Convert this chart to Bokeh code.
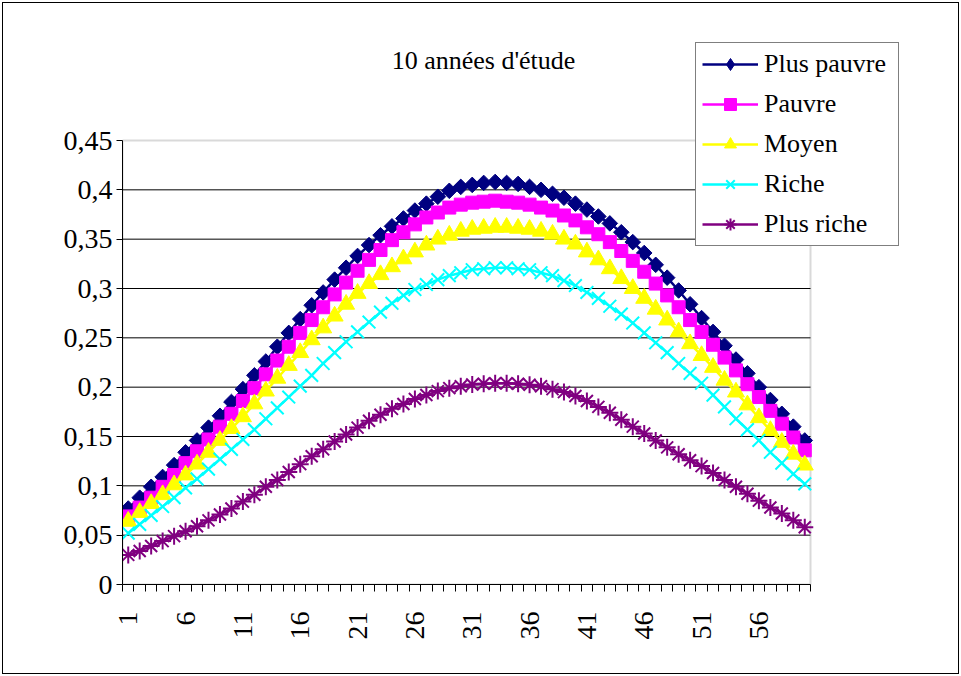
import math
from bokeh.plotting import figure
from bokeh.models import (Range1d, FixedTicker, CustomJSTickFormatter, LinearAxis,
                          Legend, LegendItem, Label, BoxAnnotation)
from bokeh.embed import file_html
from bokeh.resources import INLINE

# ---- data ----
periods = list(range(1, 61))
x_tick_labels = ["1", "6", "11", "16", "21", "26", "31", "36", "41", "46", "51", "56"]
x_tick_positions = [1, 6, 11, 16, 21, 26, 31, 36, 41, 46, 51, 56]
y_ticks = [0, 0.05, 0.1, 0.15, 0.2, 0.25, 0.3, 0.35, 0.4, 0.45]

plus_pauvre = [0.077, 0.088, 0.099, 0.109, 0.121, 0.134, 0.146, 0.159, 0.171, 0.185,
               0.198, 0.212, 0.226, 0.241, 0.255, 0.269, 0.283, 0.296, 0.309, 0.321,
               0.333, 0.344, 0.354, 0.363, 0.371, 0.379, 0.386, 0.393, 0.399, 0.403,
               0.405, 0.407, 0.408, 0.407, 0.406, 0.403, 0.400, 0.396, 0.392, 0.386,
               0.380, 0.373, 0.366, 0.357, 0.347, 0.336, 0.324, 0.311, 0.298, 0.284,
               0.270, 0.256, 0.242, 0.228, 0.214, 0.200, 0.187, 0.173, 0.160, 0.146]
pauvre = [0.069, 0.078, 0.088, 0.099, 0.111, 0.123, 0.135, 0.147, 0.160, 0.173,
          0.186, 0.199, 0.213, 0.227, 0.241, 0.255, 0.268, 0.281, 0.294, 0.306,
          0.318, 0.329, 0.339, 0.349, 0.357, 0.365, 0.372, 0.377, 0.382, 0.385,
          0.387, 0.388, 0.389, 0.388, 0.387, 0.385, 0.382, 0.379, 0.374, 0.369,
          0.362, 0.355, 0.347, 0.338, 0.328, 0.317, 0.305, 0.293, 0.281, 0.268,
          0.256, 0.243, 0.230, 0.217, 0.203, 0.190, 0.176, 0.163, 0.149, 0.136]
moyen = [0.064, 0.073, 0.082, 0.091, 0.101, 0.111, 0.122, 0.134, 0.146, 0.158,
         0.170, 0.183, 0.196, 0.209, 0.222, 0.235, 0.248, 0.260, 0.272, 0.284,
         0.295, 0.305, 0.314, 0.322, 0.330, 0.337, 0.344, 0.350, 0.354, 0.358,
         0.360, 0.361, 0.362, 0.362, 0.361, 0.360, 0.358, 0.355, 0.350, 0.345,
         0.337, 0.329, 0.320, 0.310, 0.300, 0.290, 0.279, 0.268, 0.256, 0.244,
         0.232, 0.220, 0.207, 0.195, 0.182, 0.169, 0.156, 0.144, 0.132, 0.121]
riche = [0.052, 0.061, 0.070, 0.079, 0.088, 0.098, 0.107, 0.117, 0.127, 0.137,
         0.147, 0.157, 0.168, 0.179, 0.190, 0.201, 0.212, 0.224, 0.235, 0.246,
         0.256, 0.266, 0.276, 0.285, 0.293, 0.299, 0.304, 0.309, 0.313, 0.316,
         0.319, 0.320, 0.321, 0.321, 0.320, 0.319, 0.316, 0.313, 0.308, 0.303,
         0.296, 0.290, 0.282, 0.274, 0.265, 0.255, 0.245, 0.235, 0.224, 0.214,
         0.204, 0.192, 0.180, 0.168, 0.157, 0.146, 0.134, 0.123, 0.112, 0.102]
plus_riche = [0.030, 0.034, 0.039, 0.044, 0.049, 0.054, 0.059, 0.065, 0.071, 0.077,
              0.084, 0.091, 0.099, 0.106, 0.114, 0.122, 0.130, 0.137, 0.145, 0.152,
              0.159, 0.166, 0.172, 0.178, 0.183, 0.188, 0.192, 0.196, 0.199, 0.201,
              0.2027, 0.2035, 0.204, 0.204, 0.2035, 0.2025, 0.201, 0.198, 0.195, 0.191,
              0.186, 0.180, 0.174, 0.167, 0.160, 0.153, 0.146, 0.139, 0.132, 0.126,
              0.120, 0.113, 0.106, 0.099, 0.092, 0.085, 0.078, 0.072, 0.065, 0.058]

series_names = ["Plus pauvre", "Pauvre", "Moyen", "Riche", "Plus riche"]
series_values = [plus_pauvre, pauvre, moyen, riche, plus_riche]
series_colors = ["#000080", "#FF00FF", "#FFFF00", "#00FFFF", "#800080"]
series_markers = ["square", "square", "triangle", "x", "asterisk"]
legend_markers = ["diamond", "square", "triangle", "x", "asterisk"]
marker_angles = [math.pi / 4, 0, 0, 0, 0]
marker_sizes = [11, 13, 17, 18, 17]
marker_line_widths = [1, 1, 1, 2, 2]

FONT = "Liberation Serif"
TITLE = "10 années d'étude"

x_lo = periods[0] - 0.5
x_hi = periods[-1] + 0.5
y_lo, y_hi = y_ticks[0], y_ticks[-1]

# plot area (axes box) is 688 x 444 px; frame extends further right/up so the
# title and the legend can be drawn inside it
px_per_x = 688 / (x_hi - x_lo)
px_per_y = 444 / (y_hi - y_lo)

p = figure(width=961, height=676, output_backend="svg", toolbar_location=None,
           x_range=Range1d(x_lo, x_hi + 90 / px_per_x),
           y_range=Range1d(y_lo, y_hi + 100 / px_per_y),
           min_border_left=122, min_border_right=61, min_border_top=40,
           min_border_bottom=92, x_axis_type=None,
           background_fill_color="white", border_fill_color=None,
           styles={"outline": "1px solid black", "outline-offset": "-3px"})
p.outline_line_color = None
p.xgrid.grid_line_color = None
p.ygrid.grid_line_color = None

# y axis
p.yaxis.ticker = FixedTicker(ticks=y_ticks)
p.yaxis.bounds = (y_lo, y_hi)
p.yaxis.formatter = CustomJSTickFormatter(code="""
    let s = tick.toFixed(2).replace(/0+$/, '').replace(/\\.$/, '');
    return s.replace('.', ',');
""")
p.yaxis.axis_line_color = "black"
p.yaxis.axis_line_width = 1
p.yaxis.major_tick_line_color = "black"
p.yaxis.major_tick_out = 6
p.yaxis.major_tick_in = 0
p.yaxis.minor_tick_line_color = None
p.yaxis.major_label_text_font = FONT
p.yaxis.major_label_text_font_size = "28px"
p.yaxis.major_label_text_color = "black"
p.yaxis.major_label_standoff = 4

# horizontal gridlines, limited to the plot area
grid_y = y_ticks[1:-1]
p.segment(x0=[x_lo] * len(grid_y), x1=[x_hi] * len(grid_y), y0=grid_y, y1=grid_y,
          line_color="black", line_width=1)

# grey plot-area border
p.add_layout(BoxAnnotation(left=x_lo, right=x_hi, bottom=y_lo, top=y_hi,
                           fill_color=None, line_color="#808080", line_width=2,
                           level="underlay"))

# x axis: tick marks at category boundaries
boundaries = [v - 0.5 for v in periods] + [periods[-1] + 0.5]
ax_ticks = LinearAxis(ticker=FixedTicker(ticks=boundaries), bounds=(x_lo, x_hi),
                      formatter=CustomJSTickFormatter(code="return '';"))
ax_ticks.axis_line_color = "black"
ax_ticks.major_tick_line_color = "black"
ax_ticks.major_tick_out = 7
ax_ticks.major_tick_in = 0
ax_ticks.minor_tick_line_color = None
ax_ticks.major_label_text_font_size = "1px"
ax_ticks.major_label_standoff = 0
p.add_layout(ax_ticks, "below")

# x axis: labels at category centres
ax_labels = LinearAxis(ticker=FixedTicker(ticks=x_tick_positions),
                       major_label_overrides={pos: lab for pos, lab in zip(x_tick_positions, x_tick_labels)})
ax_labels.axis_line_color = None
ax_labels.major_tick_line_color = None
ax_labels.minor_tick_line_color = None
ax_labels.major_label_orientation = math.pi / 2
ax_labels.major_label_text_font = FONT
ax_labels.major_label_text_font_size = "28px"
ax_labels.major_label_text_color = "black"
ax_labels.major_label_standoff = 14
p.add_layout(ax_labels, "below")

items = []
for name, vals, col, mk, lmk, ang, ms, mlw in zip(series_names, series_values, series_colors,
                                                  series_markers, legend_markers, marker_angles,
                                                  marker_sizes, marker_line_widths):
    lr = p.line(periods, vals, line_color=col, line_width=2.5)
    if lmk != mk or ang != 0:
        # legend-shape marker (small, hidden beneath the main markers)
        lg = p.scatter(periods, vals, marker=lmk, size=6, fill_color=col,
                       line_color=col, line_width=mlw)
        p.scatter(periods, vals, marker=mk, size=ms, angle=ang, fill_color=col,
                  line_color=col, line_width=mlw)
    else:
        lg = p.scatter(periods, vals, marker=mk, size=ms, fill_color=col,
                       line_color=col, line_width=mlw)
    items.append(LegendItem(label=name, renderers=[lr, lg]))

legend = Legend(items=items, location=(573, 338))
legend.label_text_font = FONT
legend.label_text_font_size = "26px"
legend.label_text_color = "black"
legend.label_height = 30
legend.label_width = 128
legend.glyph_height = 30
legend.glyph_width = 56
legend.label_standoff = 6
legend.spacing = 10
legend.padding = 6
legend.margin = 0
legend.border_line_color = "black"
legend.border_line_width = 1
legend.background_fill_color = "white"
legend.background_fill_alpha = 1
p.add_layout(legend, "center")

title = Label(x=361, y=524, x_units="screen", y_units="screen",
              text=TITLE, text_font=FONT, text_font_size="26px",
              text_align="center", text_baseline="middle", text_color="black")
p.add_layout(title)

open("out.html", "w").write(file_html(p, INLINE))
